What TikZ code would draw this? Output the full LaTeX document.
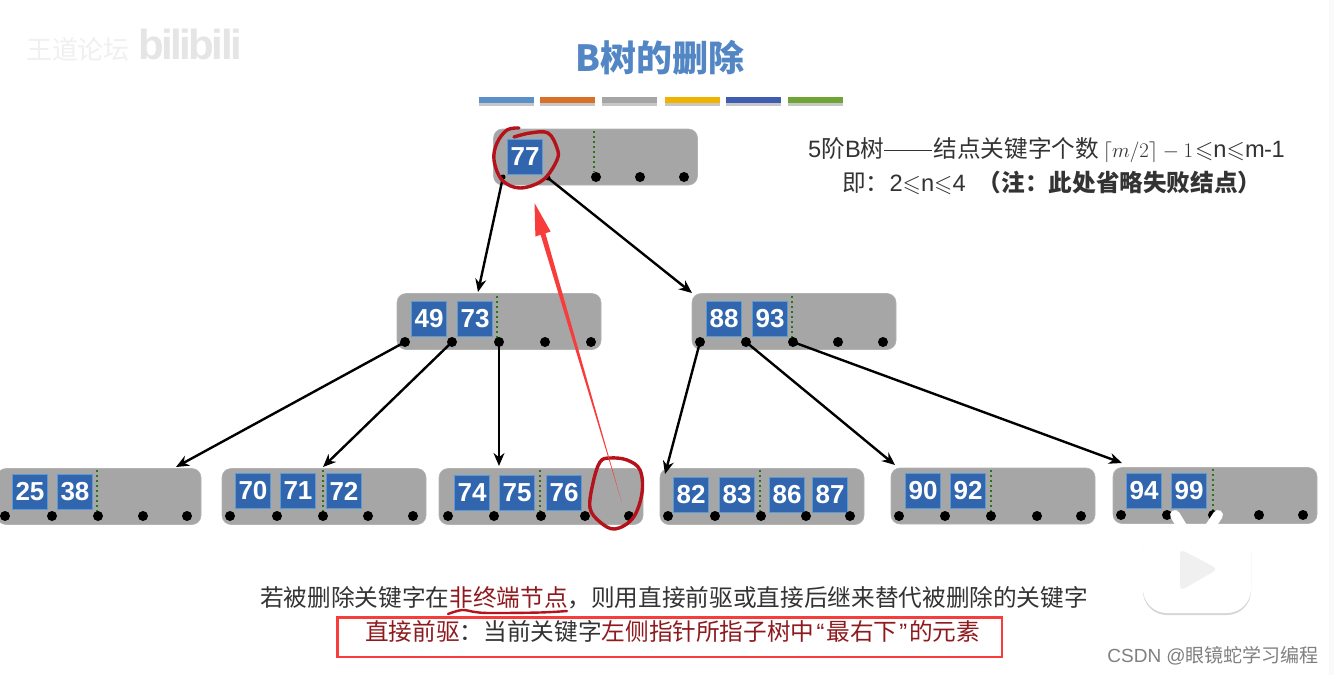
\documentclass[tikz,border=0pt]{standalone}
\usepackage{amssymb}
\usepackage{fontspec}
\setmainfont{Liberation Sans}
\newfontfamily\cjk{Noto Sans CJK SC}
\usetikzlibrary{arrows.meta}
\definecolor{boxgray}{HTML}{A6A6A6}
\definecolor{keyblue}{HTML}{3166AE}
\definecolor{keyedge}{HTML}{5B9BD5}
\definecolor{titleblue}{HTML}{5286C4}
\definecolor{inkred}{HTML}{B5121B}
\definecolor{darkred}{HTML}{8E1A1E}
\definecolor{penred}{HTML}{F83C3C}
\definecolor{txt}{HTML}{333333}
\definecolor{sepgreen}{HTML}{2A7518}
\tikzset{
  x=1pt,y=-1pt,
  nodebox/.style={draw=boxgray!85,line width=.6pt,fill=boxgray,rounded corners=9pt,minimum width=204pt,minimum height=56pt,inner sep=0pt},
  keynode/.style={draw=keyedge,line width=.7pt,fill=keyblue,text=white,minimum width=35.5pt,minimum height=35.5pt,inner sep=0pt,font=\fontsize{26}{26}\selectfont\bfseries},
  ptr/.style={circle,fill=black,minimum size=10pt,inner sep=0pt},
  ptrsmall/.style={circle,fill=black,minimum size=5pt,inner sep=0pt},
  sep/.style={dash pattern=on 2.4pt off 2.6pt,draw=sepgreen,line width=2.9pt},
  link/.style={-{Stealth[length=13pt,width=11pt]},line width=2.4pt,black},
  barline/.style={minimum width=56pt,minimum height=6.5pt,inner sep=0pt},
  ink/.style={draw=inkred,line width=3.4pt,line cap=round,line join=round},
  body/.style={inner sep=0pt,text=txt,font=\fontsize{23.65}{26}\selectfont},
}
\begin{document}
\begin{tikzpicture}
\useasboundingbox (0,0) rectangle (1334,675);
\fill[white] (0,0) rectangle (1334,675);
\fill[black!2] (1329,0) rectangle (1334,675);

% watermark
\node[inner sep=0pt,text=black!6,font=\fontsize{26}{26}\selectfont\cjk] (wm1) at (78,50) {王道论坛};
\node[inner sep=0pt,text=black!10,font=\fontsize{42}{42}\selectfont\bfseries] (wm2) at (190,44) {\addfontfeature{LetterSpace=-6}bilibili};

% title
\node[inner sep=0pt,text=titleblue,font=\fontsize{36}{36}\selectfont\bfseries\cjk] (title) at (660,58) {B树的删除};
\foreach \n/\cx/\c in {a/506.5/5B8FC9,b/567/D9702A,c/629/A5A5A5,d/692/F0B400,e/753/3F5DB0,f/815.5/6FA535}{
  \definecolor{barc}{HTML}{\c}
  \fill[black!22] (\cx-27.5,99) rectangle (\cx+27.5,105.5);
  \node[barline,fill=barc,minimum width=55pt] (bar\n) at (\cx,100) {};
}

% boxes
\node[nodebox] (rootbox) at (595.5,157) {};
\node[nodebox] (midL) at (499,321.5) {};
\node[nodebox] (midR) at (794,321.5) {};
\node[nodebox] (leafA) at (99,496.5) {};
\node[nodebox] (leafB) at (324,496.5) {};
\node[nodebox] (leafC) at (541,496.5) {};
\node[nodebox] (leafD) at (762,496.5) {};
\node[nodebox] (leafE) at (993,496) {};
\node[nodebox] (leafF) at (1215,495.5) {};

% separators
\foreach \x/\a/\b in {594/131/172,497/296/338,792/296/338,97/470/513,323/470/513,540/470/513,760/470/513,991/470/513,1213/469/512}
  \draw[sep] (\x,\a) -- (\x,\b);

% keys
\foreach \v/\cx/\cy in {77/525/157,
  49/429/319,73/475/319,88/724/319,93/770/319,
  25/30/492,38/75/492,
  70/253/491,71/298/491,72/344/491,
  74/472/493,75/517/493,76/564/493,
  82/691/495,83/737/495,86/787/495,87/830/495,
  90/923/491,92/968/491,
  94/1144/491,99/1189/491}
  \node[keynode] (k\v) at (\cx,\cy) {\v};

% pointers
\node[ptrsmall] (pr1) at (503,177) {};
\node[ptrsmall] (pr2) at (548,178) {};
\foreach \n/\x/\y in {r3/596/177,r4/640/177,r5/684/177,
  la/405/342,lb/452/342,lc/499/342,ld/545/342,le/591/342,
  ra/700/342,rb/746/342,rc/793/342,rd/838/342,re/883/342,
  aa/5/516,ab/52/516,ac/98/516,ad/143/516,ae/187/516,
  ba/230/516,bb/277/516,bc/323/516,bd/368/516,be/413/516,
  ca/448/516,cb/494/516,cc/541/516,cd/585/516,ce/629/516,
  da/668/516,db/715/516,dc/761/516,dd/806/516,de/850/516,
  ea/899/516,eb/945/516,ec/991/516,ed/1037/516,ee/1081/516,
  fa/1121/515,fb/1167/515,fc/1213/515,fd/1259/515,fe/1303/515}
  \node[ptr] (p\n) at (\x,\y) {};

% free ends of the links
\coordinate (t1) at (478,292);
\coordinate (t2) at (692,293);
\coordinate (t3) at (176,467);
\coordinate (t4) at (323,467);
\coordinate (t5) at (499,466);
\coordinate (t6) at (665,474);
\coordinate (t7) at (895,465);
\coordinate (t8) at (1122,463);
\draw[link] (pr1.center) -- (t1);
\draw[link] (pr2.center) -- (t2);
\draw[link] (pla.center) -- (t3);
\draw[link] (plb.center) -- (t4);
\draw[link] (plc.center) -- (t5);
\draw[link] (pra.center) -- (t6);
\draw[link] (prb.center) -- (t7);
\draw[link] (prc.center) -- (t8);

% hand-drawn marks
\draw[ink] plot[smooth,tension=.6] coordinates {(519,128) (507,130) (497,143) (494,160) (502,180) (520,188) (543,180) (557,160) (557,148) (548,133) (530,133) (514,137)};
\draw[ink] plot[smooth cycle,tension=.6] coordinates {(600,462) (593,483) (590,508) (600,522) (615,529) (633,518) (642,493) (640,470) (627,460) (610,458)};
\fill[penred] (622,503) -- (545.4,233.3) -- (550.6,231.5) -- (534.5,203) -- (535.4,236.5) -- (540.6,234.7) -- cycle;

% notes
\node[body,anchor=west] (note1) at (808,150.5) {5{\cjk 阶}B{\cjk 树}\raisebox{7pt}{\rule{48pt}{1.3pt}}\hspace{1pt}{\cjk 结点关键字个数}\hspace{4pt}{\fontsize{21}{24}\selectfont$\lceil m/2\rceil-1$}\hspace{2pt}$\leqslant$n$\leqslant$m\hspace{-.5pt}-\hspace{-.5pt}1};
\node[body,anchor=west] (note2) at (842,182.5) {{\cjk 即：}2$\leqslant$n$\leqslant$4\hspace{12pt}{\cjk\bfseries （注：此处省略失败结点）}};

% bottom text
\node[body,anchor=west] (line1) at (260,597.5) {\cjk 若被删除关键字在\textcolor{darkred}{非终端节点}，则用直接前驱或直接后继来替代被删除的关键字};
\node[body,anchor=west] (line2) at (365,631) {\cjk \textcolor{darkred}{直接前驱}：当前关键字\textcolor{darkred}{左侧指针所指子树中\hspace{2pt}{\rmfamily “}\hspace{2pt}最右下\hspace{2pt}{\rmfamily ”}\hspace{2pt}的元素}};
\draw[ink,line width=2.4pt] plot[smooth,tension=.6] coordinates {(448,614) (462,610) (475,612) (490,613) (540,612.5) (567,611)};
\draw[penred,line width=2.6pt] (337.5,617.5) rectangle (1002,657);

% play badge
\draw[white,line width=10pt,line cap=round] (1175,515) -- (1184,530);
\draw[white,line width=10pt,line cap=round] (1218,515) -- (1208,530);
\fill[black!16,rounded corners=24pt] (1143,528) rectangle (1251,615);
\node[fill=white,rounded corners=24pt,minimum width=108pt,minimum height=87pt,inner sep=0pt] (playbox) at (1197,569.5) {};
\fill[black!6,rounded corners=5pt] (1180,549) -- (1218,569) -- (1180,591) -- cycle;

% credit
\node[inner sep=0pt,text=black!50,font=\fontsize{19}{19}\selectfont,anchor=east] (credit) at (1319,656) {CSDN @{\cjk 眼镜蛇学习编程}};
\end{tikzpicture}
\end{document}
